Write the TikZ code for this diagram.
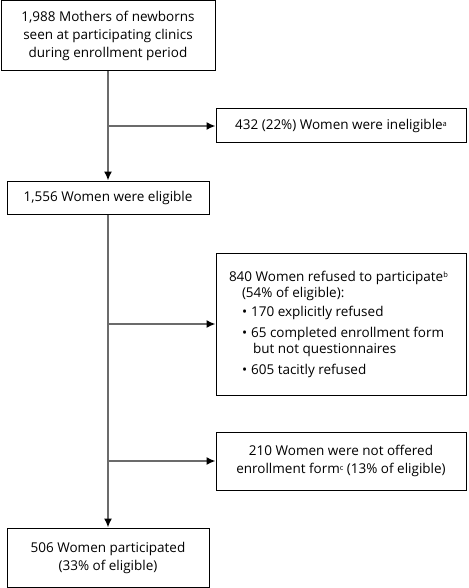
\documentclass[tikz,border=0pt]{standalone}
\usepackage{fontspec}
\setmainfont{Open Sans}
\usetikzlibrary{arrows.meta}
\newcommand{\supx}[1]{\raisebox{3.5pt}{\fontsize{7.5}{7.5}\selectfont #1}}
\newcommand{\lines}[1]{\raisebox{-3pt}{\begin{tabular}{@{}c@{}}#1\end{tabular}}}
\begin{document}
\begin{tikzpicture}[x=1pt,y=-1pt,
  box/.style={draw=black,line width=1pt,inner sep=0pt,align=center,
    font=\fontsize{13.5}{18}\selectfont},
  flow/.style={draw=black!58,line width=1.6pt},
  arr/.style={flow,-{Latex[length=9pt,width=8pt,color=black]}}]
\useasboundingbox (0,0) rectangle (468,588);
\node[box,minimum width=214pt,minimum height=70pt] (a) at (108,36)
  {\lines{1,988 Mothers of newborns\\seen at participating clinics\\during enrollment period}};
\node[box,minimum width=250pt,minimum height=34pt] (b) at (341,126)
  {432 (22\%) Women were ineligible\supx{a}};
\node[box,minimum width=202pt,minimum height=33pt] (c) at (108,197.5)
  {1,556 Women were eligible};
\node[box,minimum width=250pt,minimum height=142pt] (d) at (341,324)
  {\raisebox{-2pt}{\begin{minipage}{224pt}\raggedright\fontsize{13.5}{16.5}\selectfont
   840 Women refused to participate\supx{b}\\
   \hspace*{13pt}(54\% of eligible):\\[2pt]
   \hspace*{13pt}\textbullet\hspace{4pt}170 explicitly refused\\[4.5pt]
   \hspace*{13pt}\textbullet\hspace{4pt}65 completed enrollment form\\
   \hspace*{24pt}but not questionnaires\\[4pt]
   \hspace*{13pt}\textbullet\hspace{4pt}605 tacitly refused
   \end{minipage}}};
\node[box,minimum width=250pt,minimum height=58pt] (e) at (341,461)
  {\lines{210 Women were not offered\\enrollment form\supx{c} (13\% of eligible)}};
\node[box,minimum width=202pt,minimum height=59pt] (f) at (108,557.5)
  {\lines{506 Women participated\\(33\% of eligible)}};
\draw[arr] (a.south) -- (c.north);
\draw[arr] (a.south |- b.west) -- (b.west);
\draw[arr] (c.south) -- (f.north);
\draw[arr] (c.south |- d.west) -- (d.west);
\draw[arr] (c.south |- e.west) -- (e.west);
\end{tikzpicture}
\end{document}
